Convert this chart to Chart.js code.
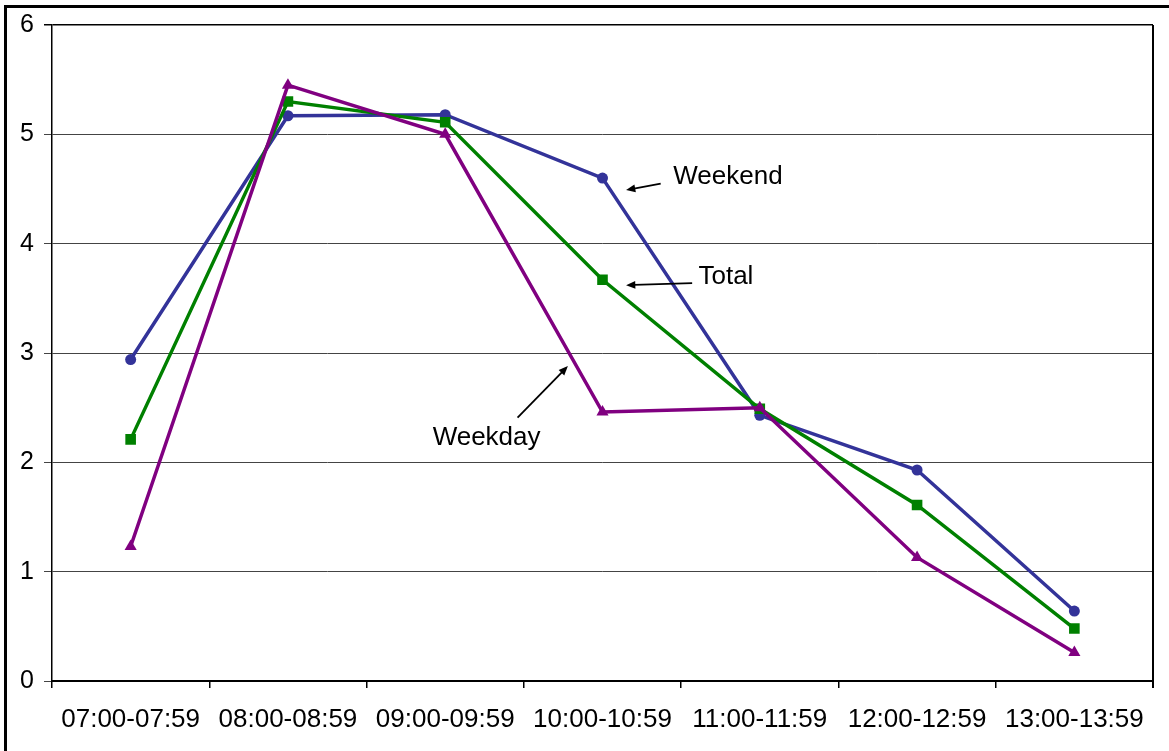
<!DOCTYPE html>
<html>
<head>
<meta charset="utf-8">
<script src="https://cdn.jsdelivr.net/npm/chart.js@4"></script>
<style>
    html, body { margin: 0; padding: 0; background: #fff; }
    #wrap { position: relative; width: 1169px; height: 751px; overflow: hidden; }
    #frame { position: absolute; left: 4px; top: 5px; width: 1200px; height: 800px; border: 3px solid #000; box-sizing: border-box; }
    canvas { position: absolute; left: 0; top: 0; }
</style>
</head>
<body>
<div id="wrap">
    <div id="frame"></div>
    <canvas id="lineChart" width="1169" height="751"></canvas>
</div>
<script>
// hourly profile chart

const hourLabels = ['07:00-07:59', '08:00-08:59', '09:00-09:59', '10:00-10:59', '11:00-11:59', '12:00-12:59', '13:00-13:59'];
const weekendVals = [2.94, 5.17, 5.18, 4.60, 2.43, 1.93, 0.64];
const totalVals = [2.21, 5.30, 5.11, 3.67, 2.49, 1.61, 0.48];
const weekdayVals = [1.23, 5.45, 5.00, 2.46, 2.50, 1.13, 0.26];
const yTicks = [0, 1, 2, 3, 4, 5, 6];

// callouts in data units: [text, textX, textY, arrowFromX, arrowFromY, arrowToX, arrowToY]
const callouts = [
    ['Weekend', 3.45, 4.61, 3.37, 4.55, 3.15, 4.49],
    ['Total', 3.61, 3.70, 3.57, 3.64, 3.15, 3.62],
    ['Weekday', 1.92, 2.22, 2.46, 2.41, 2.78, 2.88]
];

const fontFam = '"Liberation Sans", Arial, sans-serif';

const calloutPlugin = {
    id: 'callouts',
    afterDatasetsDraw(chart) {
        const ctx = chart.ctx;
        const xs = chart.scales.x, ys = chart.scales.y;
        const area = chart.chartArea;
        ctx.save();
        // right edge of plot area
        ctx.strokeStyle = '#000';
        ctx.lineWidth = 2;
        ctx.beginPath();
        ctx.moveTo(area.right, area.top);
        ctx.lineTo(area.right, area.bottom + 7);
        ctx.stroke();

        callouts.forEach(c => {
            const tx = xs.getPixelForValue(c[1]);
            const ty = ys.getPixelForValue(c[2]);
            ctx.fillStyle = '#000';
            ctx.font = '26px ' + fontFam;
            ctx.textBaseline = 'middle';
            ctx.textAlign = 'left';
            ctx.fillText(c[0], tx, ty);

            const x1 = xs.getPixelForValue(c[3]), y1 = ys.getPixelForValue(c[4]);
            const x2 = xs.getPixelForValue(c[5]), y2 = ys.getPixelForValue(c[6]);
            const ang = Math.atan2(y2 - y1, x2 - x1);
            const head = 10;
            ctx.strokeStyle = '#000';
            ctx.lineWidth = 1.8;
            ctx.beginPath();
            ctx.moveTo(x1, y1);
            ctx.lineTo(x2 - Math.cos(ang) * head * 0.8, y2 - Math.sin(ang) * head * 0.8);
            ctx.stroke();
            ctx.beginPath();
            ctx.moveTo(x2, y2);
            ctx.lineTo(x2 - head * Math.cos(ang - 0.4), y2 - head * Math.sin(ang - 0.4));
            ctx.lineTo(x2 - head * Math.cos(ang + 0.4), y2 - head * Math.sin(ang + 0.4));
            ctx.closePath();
            ctx.fill();
        });
        ctx.restore();
    }
};

const seriesDefs = [
    { label: 'Weekday', data: weekdayVals, color: '#800080', style: 'triangle', radius: 7 },
    { label: 'Total', data: totalVals, color: '#008000', style: 'rect', radius: 7.5 },
    { label: 'Weekend', data: weekendVals, color: '#333399', style: 'circle', radius: 5.5 }
];

const ctx = document.getElementById('lineChart').getContext('2d');
new Chart(ctx, {
    type: 'line',
    data: {
        labels: hourLabels,
        datasets: seriesDefs.map(s => ({
            label: s.label,
            data: s.data,
            borderColor: s.color,
            backgroundColor: s.color,
            borderWidth: 3.5,
            pointStyle: s.style,
            pointRadius: s.radius,
            pointBorderWidth: 0,
            pointBackgroundColor: s.color,
            tension: 0,
            fill: false
        }))
    },
    plugins: [calloutPlugin],
    options: {
        responsive: false,
        animation: false,
        devicePixelRatio: 1,
        layout: { padding: { top: 24, right: 16, left: 0, bottom: 0 } },
        scales: {
            x: {
                offset: true,
                grid: { offset: true, drawOnChartArea: false, color: '#000', tickLength: 7, lineWidth: 1.5 },
                border: { color: '#000', width: 2 },
                ticks: { color: '#000', font: { family: fontFam, size: 26 }, padding: 16, maxRotation: 0, autoSkip: false },
                afterFit(scale) { scale.height = 70; }
            },
            y: {
                min: 0,
                max: 6,
                afterBuildTicks(scale) { scale.ticks = yTicks.map(v => ({ value: v })); },
                grid: {
                    color: ctx => ctx.tick && ctx.tick.value === 6 ? '#000' : '#444',
                    lineWidth: ctx => ctx.tick && ctx.tick.value === 6 ? 1.5 : 1,
                    tickLength: 8
                },
                border: { color: '#000', width: 1.5 },
                ticks: { color: '#000', font: { family: fontFam, size: 25 }, padding: 10 },
                afterFit(scale) { scale.width = 52; }
            }
        },
        plugins: {
            legend: { display: false },
            tooltip: { enabled: false }
        }
    }
});
</script>
</body>
</html>
